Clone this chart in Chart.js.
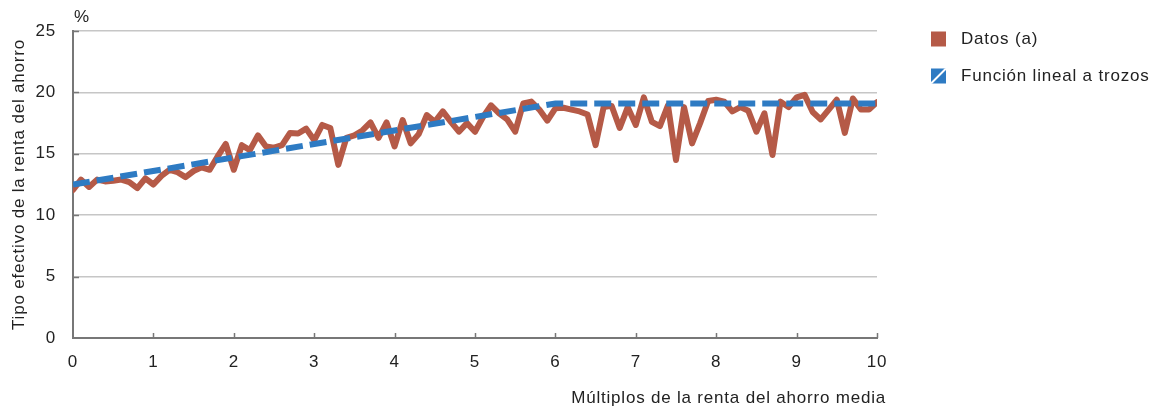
<!DOCTYPE html>
<html>
<head>
<meta charset="utf-8">
<script src="https://cdn.jsdelivr.net/npm/chart.js@4.4.1/dist/chart.umd.min.js"></script>
<style>
  html, body { margin: 0; padding: 0; background: #ffffff; }
  #wrap { width: 1154px; height: 412px; position: relative; }
</style>
</head>
<body>
<div id="wrap"><canvas id="chart"></canvas></div>
<script>
// Múltiplos de la renta del ahorro media (0 a 10, paso 0,1)
const multiples = [
  0.0, 0.1, 0.2, 0.3, 0.4, 0.5, 0.6, 0.7, 0.8, 0.9,
  1.0, 1.1, 1.2, 1.3, 1.4, 1.5, 1.6, 1.7, 1.8, 1.9,
  2.0, 2.1, 2.2, 2.3, 2.4, 2.5, 2.6, 2.7, 2.8, 2.9,
  3.0, 3.1, 3.2, 3.3, 3.4, 3.5, 3.6, 3.7, 3.8, 3.9,
  4.0, 4.1, 4.2, 4.3, 4.4, 4.5, 4.6, 4.7, 4.8, 4.9,
  5.0, 5.1, 5.2, 5.3, 5.4, 5.5, 5.6, 5.7, 5.8, 5.9,
  6.0, 6.1, 6.2, 6.3, 6.4, 6.5, 6.6, 6.7, 6.8, 6.9,
  7.0, 7.1, 7.2, 7.3, 7.4, 7.5, 7.6, 7.7, 7.8, 7.9,
  8.0, 8.1, 8.2, 8.3, 8.4, 8.5, 8.6, 8.7, 8.8, 8.9,
  9.0, 9.1, 9.2, 9.3, 9.4, 9.5, 9.6, 9.7, 9.8, 9.9,
  10.0
];

// Tipo efectivo observado (%)
const datos = [
  12.05, 12.9, 12.3, 12.9, 12.75, 12.8, 12.9, 12.7, 12.2, 13.0,
  12.5, 13.2, 13.7, 13.5, 13.1, 13.6, 13.9, 13.7, 14.8, 15.8,
  13.7, 15.7, 15.3, 16.5, 15.6, 15.5, 15.7, 16.7, 16.65, 17.05,
  16.1, 17.35, 17.1, 14.1, 16.3, 16.5, 16.9, 17.55, 16.3, 17.55,
  15.6, 17.75, 15.85, 16.6, 18.15, 17.6, 18.45, 17.6, 16.8, 17.5,
  16.8, 18.0, 18.95, 18.3, 17.8, 16.8, 19.1, 19.25, 18.6, 17.7,
  18.7, 18.75, 18.6, 18.45, 18.2, 15.7, 18.8, 18.9, 17.1, 18.8,
  17.35, 19.6, 17.6, 17.25, 18.95, 14.5, 18.8, 15.85, 17.5, 19.3,
  19.4, 19.25, 18.45, 18.8, 18.5, 16.8, 18.3, 14.9, 19.25, 18.8,
  19.6, 19.8, 18.4, 17.8, 18.6, 19.4, 16.7, 19.5, 18.6, 18.6,
  19.2
];

// Función lineal a trozos: nodos y valores
const tramosX = [0, 6, 10];
const tramosY = [12.5, 19.1, 19.1];

const xTicks = [0, 1, 2, 3, 4, 5, 6, 7, 8, 9, 10];
const yTicks = [0, 5, 10, 15, 20, 25];

const seriesNames = ['Datos (a)', 'Función lineal a trozos'];
const xTitle = 'Múltiplos de la renta del ahorro media';
const yTitle = 'Tipo efectivo de la renta del ahorro';
const unitLabel = '%';

const BROWN = '#b55a47';
const BLUE = '#2e7bc3';
const TEXT = '#222222';
const FONT = '"Liberation Sans", Arial, Helvetica, sans-serif';
const FONT_SIZE = 17;
const TRACKING = '0.8px';

const dataPoints = multiples.map((x, i) => ({ x: x, y: datos[i] }));
const fitPoints = tramosX.map((x, i) => ({ x: x, y: tramosY[i] }));

// Slightly open letter spacing for all canvas text
const tracking = {
  id: 'tracking',
  beforeLayout(chart) { chart.ctx.letterSpacing = TRACKING; },
  beforeDraw(chart) { chart.ctx.letterSpacing = TRACKING; }
};

// Inward tick marks, axis title, unit label and legend
const decorations = {
  id: 'decorations',
  afterDraw(chart) {
    const { ctx, scales: { x, y }, chartArea } = chart;
    ctx.save();
    ctx.letterSpacing = TRACKING;
    ctx.strokeStyle = '#777777';
    ctx.lineWidth = 1.5;
    ctx.beginPath();
    xTicks.forEach(v => {
      if (v === 0) return;
      const px = Math.round(x.getPixelForValue(v)) + 0.5;
      ctx.moveTo(px, chartArea.bottom);
      ctx.lineTo(px, chartArea.bottom - 5);
    });
    yTicks.forEach(v => {
      if (v === 0) return;
      const py = Math.round(y.getPixelForValue(v)) + 0.5;
      ctx.moveTo(chartArea.left, py);
      ctx.lineTo(chartArea.left + 6, py);
    });
    ctx.stroke();

    ctx.fillStyle = TEXT;
    ctx.font = FONT_SIZE + 'px ' + FONT;
    ctx.textBaseline = 'middle';

    ctx.textAlign = 'right';
    ctx.fillText(xTitle, chartArea.right + 9, 398);

    ctx.textAlign = 'left';
    ctx.fillText(unitLabel, chartArea.left + 1, 17);

    // legend
    const lx = 931, size = 15;
    const rows = [39, 76];
    ctx.fillStyle = BROWN;
    ctx.fillRect(lx, rows[0] - 7.5, size, size);
    ctx.fillStyle = BLUE;
    ctx.fillRect(lx, rows[1] - 7.5, size, size);
    ctx.strokeStyle = '#ffffff';
    ctx.lineWidth = 2;
    ctx.beginPath();
    ctx.moveTo(lx, rows[1] + 7.5);
    ctx.lineTo(lx + size, rows[1] - 7.5);
    ctx.stroke();

    ctx.fillStyle = TEXT;
    ctx.fillText(seriesNames[0], 961, rows[0]);
    ctx.fillText(seriesNames[1], 961, rows[1]);
    ctx.restore();
  }
};

new Chart(document.getElementById('chart'), {
  type: 'line',
  data: {
    datasets: [
      {
        label: seriesNames[0],
        data: dataPoints,
        borderColor: BROWN,
        backgroundColor: BROWN,
        borderWidth: 6,
        pointRadius: 0,
        tension: 0,
        borderJoinStyle: 'round',
        borderCapStyle: 'round',
        order: 2
      },
      {
        label: seriesNames[1],
        data: fitPoints,
        borderColor: BLUE,
        backgroundColor: BLUE,
        borderWidth: 6,
        borderDash: [17, 7],
        pointRadius: 0,
        tension: 0,
        order: 1
      }
    ]
  },
  options: {
    responsive: true,
    maintainAspectRatio: false,
    animation: false,
    layout: { padding: { left: 0, top: 31, right: 277, bottom: 0 } },
    plugins: {
      legend: { display: false },
      tooltip: { enabled: false }
    },
    scales: {
      x: {
        type: 'linear',
        min: 0,
        max: 10,
        afterFit(scale) { scale.height = 74; },
        afterBuildTicks(scale) { scale.ticks = xTicks.map(v => ({ value: v })); },
        grid: { display: false, drawTicks: false },
        border: { display: true, color: '#777777', width: 2 },
        ticks: {
          padding: 14,
          color: TEXT,
          font: { family: FONT, size: FONT_SIZE },
          maxRotation: 0,
          callback: v => String(v)
        },
        title: { display: false }
      },
      y: {
        min: 0,
        max: 25,
        afterFit(scale) { scale.width = 73; },
        afterBuildTicks(scale) { scale.ticks = yTicks.map(v => ({ value: v })); },
        grid: { color: '#c6c6c6', lineWidth: 1.5, drawTicks: false },
        border: { display: true, color: '#777777', width: 2 },
        ticks: {
          padding: 17,
          color: TEXT,
          font: { family: FONT, size: FONT_SIZE },
          callback: v => String(v)
        },
        title: {
          display: true,
          text: yTitle,
          color: TEXT,
          font: { family: FONT, size: FONT_SIZE },
          padding: { top: 9, bottom: 0 }
        }
      }
    }
  },
  plugins: [tracking, decorations]
});
</script>
</body>
</html>
